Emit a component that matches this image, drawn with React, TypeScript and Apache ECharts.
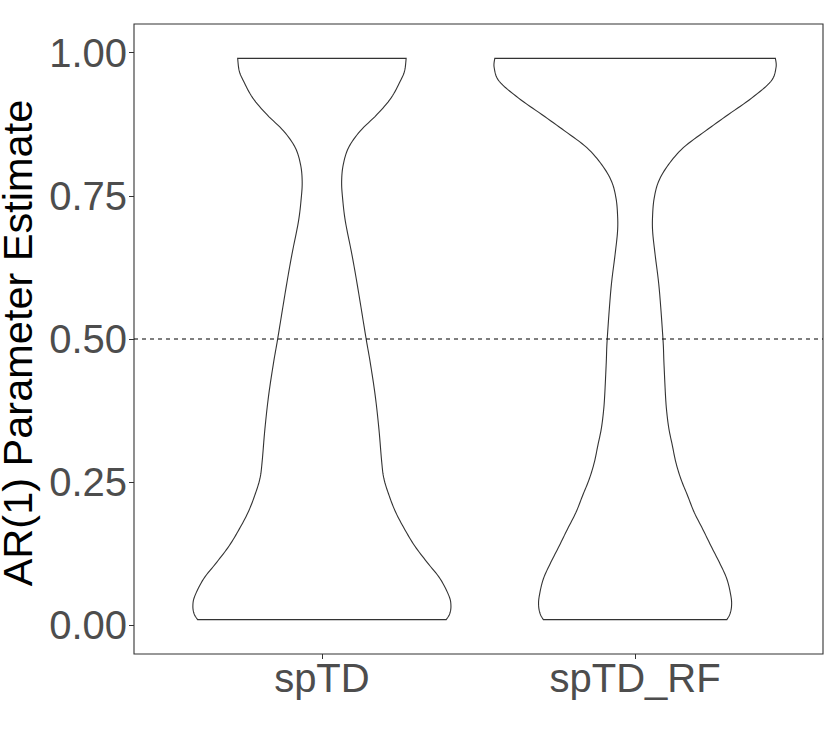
import React, { useEffect, useRef } from "react";
import * as echarts from "echarts";

const categories = ["spTD", "spTD_RF"];
const yTickValues = [0, 0.25, 0.5, 0.75, 1];
const referenceLine = 0.5;

// violin profiles: y levels and half-widths (in category units)
const spTDLevels = [0.01, 0.02, 0.034, 0.051, 0.081, 0.110, 0.139, 0.168, 0.197, 0.226, 0.256, 0.285, 0.343, 0.402, 0.460, 0.501, 0.588, 0.647, 0.705, 0.746, 0.775, 0.804, 0.834, 0.863, 0.892, 0.921, 0.950, 0.968, 0.990];
const spTDWidths = [0.397, 0.408, 0.412, 0.406, 0.378, 0.336, 0.296, 0.264, 0.236, 0.215, 0.198, 0.191, 0.182, 0.170, 0.154, 0.141, 0.115, 0.096, 0.075, 0.066, 0.063, 0.068, 0.085, 0.122, 0.176, 0.221, 0.250, 0.264, 0.269];

const spTDRFLevels = [0.01, 0.02, 0.034, 0.051, 0.081, 0.110, 0.139, 0.168, 0.197, 0.226, 0.256, 0.285, 0.314, 0.343, 0.373, 0.402, 0.460, 0.500, 0.588, 0.647, 0.688, 0.717, 0.746, 0.775, 0.804, 0.834, 0.863, 0.892, 0.921, 0.950, 0.974, 0.990];
const spTDRFWidths = [0.293, 0.303, 0.308, 0.306, 0.293, 0.269, 0.242, 0.216, 0.189, 0.168, 0.146, 0.130, 0.119, 0.108, 0.101, 0.097, 0.092, 0.089, 0.077, 0.064, 0.056, 0.056, 0.061, 0.075, 0.106, 0.154, 0.224, 0.298, 0.373, 0.434, 0.450, 0.448];

const levelsList = [spTDLevels, spTDRFLevels];
const widthsList = [spTDWidths, spTDRFWidths];

function catmull(pts: number[][], seg = 8): number[][] {
  const out: number[][] = [];
  for (let i = 0; i < pts.length - 1; i++) {
    const p0 = pts[Math.max(i - 1, 0)];
    const p1 = pts[i];
    const p2 = pts[i + 1];
    const p3 = pts[Math.min(i + 2, pts.length - 1)];
    for (let s = 0; s < seg; s++) {
      const t = s / seg, t2 = t * t, t3 = t2 * t;
      const f = (a: number, b: number, c: number, d: number) =>
        0.5 * (2 * b + (-a + c) * t + (2 * a - 5 * b + 4 * c - d) * t2 + (-a + 3 * b - 3 * c + d) * t3);
      out.push([f(p0[0], p1[0], p2[0], p3[0]), f(p0[1], p1[1], p2[1], p3[1])]);
    }
  }
  out.push(pts[pts.length - 1]);
  return out;
}

const FONT = "'Liberation Sans', Arial, Helvetica, sans-serif";

export default function App() {
  const ref = useRef<HTMLDivElement>(null);
  useEffect(() => {
    if (!ref.current) return;
    const chart = echarts.init(ref.current, null, { renderer: "svg" });
    const option: any = {
      animation: false,
      backgroundColor: "#ffffff",
      grid: {
        left: 134,
        right: 7,
        top: 24,
        bottom: 93,
        containLabel: false,
        outerBoundsMode: "none",
        show: true,
        borderColor: "#333333",
        borderWidth: 1.1,
        backgroundColor: "transparent",
      },
      xAxis: {
        type: "value",
        min: 0.4,
        max: 2.6,
        axisLine: { show: false, onZero: false },
        splitLine: { show: false },
        axisTick: {
          show: true,
          length: 5,
          customValues: [1, 2],
          lineStyle: { color: "#333333", width: 1 },
        },
        axisLabel: {
          customValues: [1, 2],
          formatter: (v: number) => categories[Math.round(v) - 1] ?? "",
          color: "#4D4D4D",
          fontSize: 40,
          fontFamily: FONT,
          margin: 4,
        },
      },
      yAxis: {
        type: "value",
        min: -0.05,
        max: 1.05,
        name: "AR(1) Parameter Estimate",
        nameLocation: "middle",
        nameGap: 82,
        nameTextStyle: {
          color: "#000000",
          fontSize: 41.5,
          fontFamily: FONT,
          padding: [0, 8, 0, 0],
        },
        axisLine: { show: false, onZero: false },
        splitLine: { show: false },
        axisTick: {
          show: true,
          length: 5,
          customValues: yTickValues,
          lineStyle: { color: "#333333", width: 1 },
        },
        axisLabel: {
          customValues: yTickValues,
          formatter: (v: number) => v.toFixed(2),
          color: "#4D4D4D",
          fontSize: 40,
          fontFamily: FONT,
          margin: 7,
        },
      },
      series: [
        {
          type: "line",
          data: [
            [0.4, referenceLine],
            [2.6, referenceLine],
          ],
          symbol: "none",
          silent: true,
          lineStyle: { color: "#000000", width: 1.1, type: [4, 4] },
          z: 3,
        },
        {
          type: "custom",
          coordinateSystem: "cartesian2d",
          data: categories.map((_, i) => [i + 1, 0.5]),
          encode: { x: 0, y: 1 },
          silent: true,
          z: 2,
          renderItem: (params: any, api: any) => {
            const i = params.dataIndex;
            const xc = api.value(0);
            const levels = levelsList[i];
            const widths = widthsList[i];
            const unit = api.size([1, 0])[0];
            const left: number[][] = [];
            const right: number[][] = [];
            levels.forEach((lv, k) => {
              const p = api.coord([xc, lv]);
              const dx = widths[k] * unit;
              left.push([p[0] - dx, p[1]]);
              right.push([p[0] + dx, p[1]]);
            });
            const l = catmull(left);
            const r = catmull(right).reverse();
            const pts = [...l, ...r];
            return {
              type: "polygon",
              shape: { points: pts },
              style: { fill: "none", stroke: "#333333", lineWidth: 1.1 },
            };
          },
        },
      ],
    };
    chart.setOption(option);
    return () => chart.dispose();
  }, []);
  return (
    <div
      ref={ref}
      style={{ position: "absolute", left: 0, top: 0, width: 830, height: 747 }}
    />
  );
}
